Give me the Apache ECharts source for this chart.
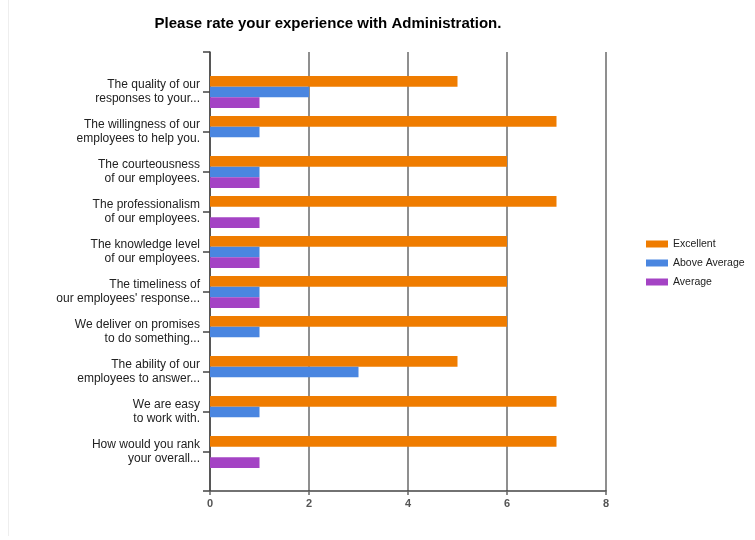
<!DOCTYPE html>
<html>
<head>
<meta charset="utf-8">
<script src="https://cdn.jsdelivr.net/npm/echarts@6/dist/echarts.min.js"></script>
<style>
  html, body { margin: 0; padding: 0; background: #fff; }
  #chart { width: 755px; height: 540px; }
</style>
</head>
<body>
<div id="chart"></div>
<script>
var categories = [
    'The quality of our\nresponses to your...',
    'The willingness of our\nemployees to help you.',
    'The courteousness\nof our employees.',
    'The professionalism\nof our employees.',
    'The knowledge level\nof our employees.',
    'The timeliness of\nour employees\' response...',
    'We deliver on promises\nto do something...',
    'The ability of our\nemployees to answer...',
    'We are easy\nto work with.',
    'How would you rank\nyour overall...'
];
var excellent = [5, 7, 6, 7, 6, 6, 6, 5, 7, 7];
var aboveAverage = [2, 1, 1, 0, 1, 1, 1, 3, 1, 0];
var average = [1, 0, 1, 1, 1, 1, 0, 0, 0, 1];
var xMin = 0, xMax = 8, xStep = 2;

var font = "'Liberation Sans', Arial, sans-serif";
var chart = echarts.init(document.getElementById('chart'));

chart.setOption({
    animation: false,
    backgroundColor: '#fff',
    color: ['#ef7c00', '#4a86e0', '#a443c4'],
    textStyle: { fontFamily: font },
    title: {
        text: 'Please rate your experience with Administration.',
        left: 323, top: 11, textAlign: 'center',
        textStyle: { fontFamily: font, fontSize: 15, fontWeight: 'bold', color: '#000' }
    },
    legend: {
        orient: 'vertical',
        left: 646, top: 238, padding: 0,
        itemWidth: 22, itemHeight: 7, itemGap: 7,
        icon: 'rect',
        textStyle: { fontFamily: font, fontSize: 10.5, color: '#222', lineHeight: 12 },
        data: ['Excellent', 'Above Average', 'Average']
    },
    graphic: [{
        type: 'line', shape: { x1: 8.5, y1: 0, x2: 8.5, y2: 536 },
        style: { stroke: '#eee', lineWidth: 1 }, silent: true
    }],
    grid: [
        { left: 210, right: 149, top: 52, bottom: 49 },
        { left: 210, right: 149, top: 72, bottom: 68 }
    ],
    xAxis: [{
        gridIndex: 0, type: 'value', min: xMin, max: xMax, interval: xStep,
        axisLine: { show: true, lineStyle: { color: '#444', width: 1.5 } },
        axisTick: { show: true, length: 4, lineStyle: { color: '#666', width: 1.5 } },
        axisLabel: { margin: 7, fontFamily: font, fontSize: 11, fontWeight: 'bold', color: '#555' },
        splitLine: { show: true, lineStyle: { color: '#8f8f8f', width: 2 } }
    }, {
        gridIndex: 1, type: 'value', min: xMin, max: xMax, show: false
    }],
    yAxis: [{
        gridIndex: 0, type: 'value', min: 0, max: 1, interval: 1,
        axisLine: { show: true, lineStyle: { color: '#444', width: 1.5 } },
        axisTick: { show: true, length: 7, lineStyle: { color: '#444', width: 1.5 } },
        axisLabel: { show: false },
        splitLine: { show: false }
    }, {
        gridIndex: 1, type: 'category', inverse: true, data: categories,
        axisLine: { show: false },
        axisTick: { show: true, alignWithLabel: true, length: 7, lineStyle: { color: '#444', width: 1.5 } },
        axisLabel: { margin: 10, fontFamily: font, fontSize: 12, lineHeight: 14, color: '#222', align: 'right' }
    }],
    series: [
        { name: 'Excellent', type: 'bar', xAxisIndex: 1, yAxisIndex: 1, barGap: 0, barCategoryGap: '20%', data: excellent },
        { name: 'Above Average', type: 'bar', xAxisIndex: 1, yAxisIndex: 1, barGap: 0, barCategoryGap: '20%', data: aboveAverage },
        { name: 'Average', type: 'bar', xAxisIndex: 1, yAxisIndex: 1, barGap: 0, barCategoryGap: '20%', data: average }
    ]
});
</script>
</body>
</html>
